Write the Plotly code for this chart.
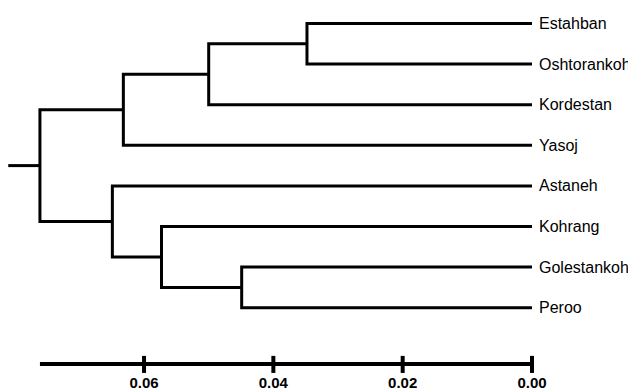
import plotly.graph_objects as go

# ---- data ----
leaf_names = ["Estahban", "Oshtorankoh", "Kordestan", "Yasoj",
              "Astaneh", "Kohrang", "Golestankoh", "Peroo"]
# merges: (left child, right child, height); children are leaf names or merge ids "m0".."m6"
merge_left = ["Estahban", "m0", "m1", "Golestankoh", "Kohrang", "Astaneh", "m2"]
merge_right = ["Oshtorankoh", "Kordestan", "Yasoj", "Peroo", "m3", "m4", "m5"]
merge_height = [0.0348, 0.0500, 0.0632, 0.0449, 0.0573, 0.0649, 0.0761]
root_stub = 0.0810
scale_ticks = [0.06, 0.04, 0.02, 0.00]
scale_tick_labels = ["0.06", "0.04", "0.02", "0.00"]

# ---- build dendrogram geometry ----
pos = {n: (0.0, i) for i, n in enumerate(leaf_names)}
xs, ys = [], []
for k, (a, b, h) in enumerate(zip(merge_left, merge_right, merge_height)):
    xa, ya = pos[a]
    xb, yb = pos[b]
    xs += [xa, h, h, xb, None]
    ys += [ya, ya, yb, yb, None]
    pos["m%d" % k] = (h, (ya + yb) / 2)
rx, ry = pos["m%d" % (len(merge_height) - 1)]
xs += [rx, root_stub, None]
ys += [ry, ry, None]

FONT = "Liberation Sans, Arial, sans-serif"

fig = go.Figure()
fig.add_trace(go.Scatter(x=xs, y=ys, mode="lines",
                         line=dict(color="black", width=3),
                         hoverinfo="skip", showlegend=False))

# scale bar
bar_y = 8.387
sx = [rx, 0.0, None]
sy = [bar_y, bar_y, None]
for t in scale_ticks:
    sx += [t, t, None]
    sy += [bar_y - 0.2, bar_y + 0.22, None]
fig.add_trace(go.Scatter(x=sx, y=sy, mode="lines",
                         line=dict(color="black", width=4),
                         hoverinfo="skip", showlegend=False))
fig.add_trace(go.Scatter(x=scale_ticks, y=[8.88] * len(scale_ticks), mode="text",
                         text=["<b>%s</b>" % s for s in scale_tick_labels],
                         textposition="middle center",
                         textfont=dict(family=FONT, size=15, color="black"),
                         hoverinfo="skip", showlegend=False))

for i, n in enumerate(leaf_names):
    fig.add_annotation(x=0.0, y=i, text=n, showarrow=False, xanchor="left",
                       yanchor="middle", xshift=5,
                       font=dict(family=FONT, size=16, color="black"))

fig.update_layout(
    width=628, height=392,
    margin=dict(l=0, r=0, t=0, b=0),
    paper_bgcolor="white", plot_bgcolor="white",
    xaxis=dict(range=[532 / 6466, -96 / 6466], visible=False, fixedrange=True),
    yaxis=dict(range=[(392 - 23.5) / 40.6, -23.5 / 40.6], visible=False, fixedrange=True),
)
fig.write_html("out.html", config={"displayModeBar": False},
               post_script="document.body.style.margin='0';document.body.style.overflow='hidden';")
